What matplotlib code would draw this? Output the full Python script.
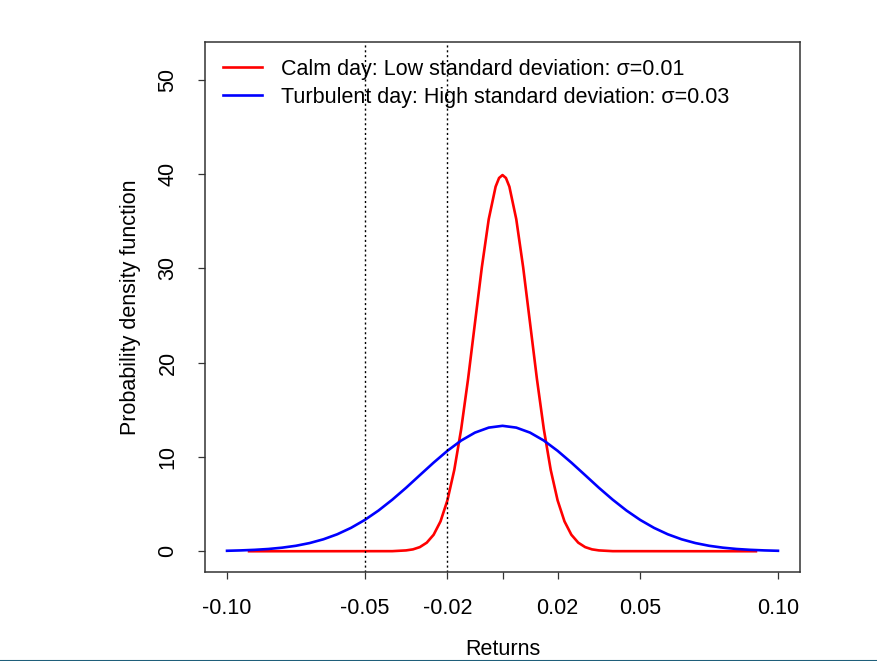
import matplotlib.pyplot as plt
import matplotlib.lines as mlines

plt.rcParams['font.family'] = ['Liberation Sans', 'DejaVu Sans']

# calm day (sigma = 0.01)
calm_x = [-0.092, -0.04, -0.035, -0.0325, -0.03, -0.0275, -0.025, -0.0225,
          -0.02, -0.0175, -0.015, -0.0125, -0.01, -0.0075, -0.005, -0.0025,
          -0.00125, 0.0, 0.00125, 0.0025, 0.005, 0.0075, 0.01, 0.0125, 0.015,
          0.0175, 0.02, 0.0225, 0.025, 0.0275, 0.03, 0.0325, 0.035, 0.04,
          0.092]
calm_y = [0.0, 0.01, 0.09, 0.20, 0.44, 0.91, 1.75, 3.17,
          5.40, 8.63, 12.95, 18.26, 24.20, 30.11, 35.21, 38.66,
          39.58, 39.89, 39.58, 38.66, 35.21, 30.11, 24.20, 18.26, 12.95,
          8.63, 5.40, 3.17, 1.75, 0.91, 0.44, 0.20, 0.09, 0.01,
          0.0]

# turbulent day (sigma = 0.03)
turb_x = [-0.1, -0.095, -0.09, -0.085, -0.08, -0.075, -0.07, -0.065, -0.06,
          -0.055, -0.05, -0.045, -0.04, -0.035, -0.03, -0.025, -0.02, -0.015,
          -0.01, -0.005, 0.0, 0.005, 0.01, 0.015, 0.02, 0.025, 0.03, 0.035,
          0.04, 0.045, 0.05, 0.055, 0.06, 0.065, 0.07, 0.075, 0.08, 0.085,
          0.09, 0.095, 0.1]
turb_y = [0.05, 0.09, 0.15, 0.24, 0.38, 0.58, 0.87, 1.27, 1.80,
          2.48, 3.32, 4.32, 5.47, 6.73, 8.07, 9.40, 10.65, 11.74,
          12.58, 13.11, 13.30, 13.11, 12.58, 11.74, 10.65, 9.40, 8.07, 6.73,
          5.47, 4.32, 3.32, 2.48, 1.80, 1.27, 0.87, 0.58, 0.38, 0.24,
          0.15, 0.09, 0.05]

cutoffs = [-0.05, -0.02]
xticks = [-0.10, -0.05, -0.02, 0.0, 0.02, 0.05, 0.10]
xtick_labels = ["-0.10", "-0.05", "-0.02", "", "0.02", "0.05", "0.10"]
yticks = [0, 10, 20, 30, 40, 50]

labels = ["Calm day: Low standard deviation: \u03c3=0.01",
          "Turbulent day: High standard deviation: \u03c3=0.03"]

fs = 15.5

fig = plt.figure(figsize=(8.77, 6.61), dpi=100)
ax = fig.add_axes([205/877, 1 - 572/661, 595/877, 530/661])

ax.plot(calm_x, calm_y, color="red", lw=1.9)
ax.plot(turb_x, turb_y, color="blue", lw=1.9)

for c in cutoffs:
    ax.axvline(c, color="black", lw=1.0, linestyle=(0, (1.5, 2)))

ax.set_xlim(-0.108, 0.108)
ax.set_ylim(-2.2, 54.0)

ax.set_xticks(xticks)
ax.set_xticklabels(xtick_labels)
ax.set_yticks(yticks)
ax.set_yticklabels([str(v) for v in yticks], rotation=90, va="center")
ax.tick_params(axis="both", labelsize=fs, length=5, width=0.9,
               color="#333333", pad=14)

for s in ax.spines.values():
    s.set_color("#333333")
    s.set_linewidth(1.1)

ax.set_xlabel("Returns", fontsize=fs, labelpad=14)
ax.set_ylabel("Probability density function", fontsize=fs, labelpad=12)

handles = [mlines.Line2D([], [], color="red", lw=1.9),
           mlines.Line2D([], [], color="blue", lw=1.9)]
ax.legend(handles, labels, loc="upper left", frameon=False, fontsize=fs,
          handlelength=1.8, handletextpad=0.9, labelspacing=0.33,
          borderaxespad=0.3, bbox_to_anchor=(0.005, 0.997))

# thin border strip at the bottom of the image
fig.add_artist(mlines.Line2D([0, 1], [0.5/661, 0.5/661], color="#1f5f7a",
                             lw=1.5, transform=fig.transFigure))

fig.savefig("out.png", dpi=100)
